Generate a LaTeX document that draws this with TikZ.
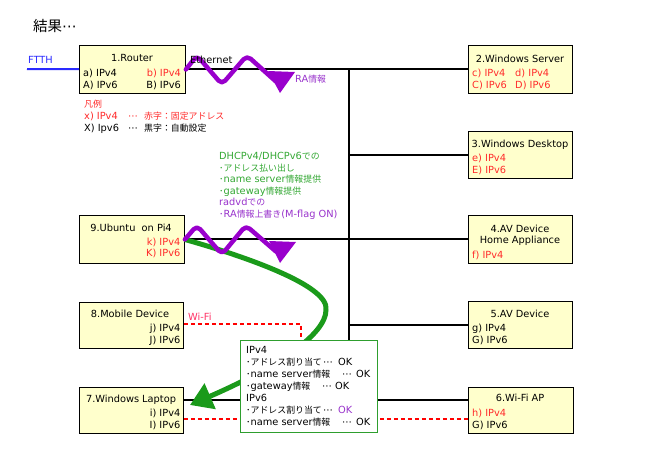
\documentclass[tikz,border=0pt]{standalone}
\usepackage{fontspec}
\setmainfont{DejaVu Sans}
\newfontfamily\jpf{Noto Sans CJK JP}
\usetikzlibrary{arrows.meta}
\newcommand\J[1]{{\jpf\fontsize{8.9}{11}\selectfont #1}}
\newcommand\dts{⋯}
\definecolor{boxy}{HTML}{FFFFCC}
\definecolor{rd}{HTML}{FF2A2A}
\definecolor{pp}{HTML}{9900CC}
\definecolor{ppt}{HTML}{9933CC}
\definecolor{gt}{HTML}{33A833}
\definecolor{gc}{HTML}{1A9A1A}
\definecolor{gbd}{HTML}{2E9E2E}
\definecolor{bl}{HTML}{2A2AFF}
\definecolor{wfc}{HTML}{FF3366}
\begin{document}
\begin{tikzpicture}[x=1pt,y=-1pt,
  box/.style={draw=black,line width=0.9pt,fill=boxy,inner sep=0,anchor=north west},
  tx/.style={inner sep=0,anchor=base west,font=\fontsize{9.8}{11}\selectfont},
  txr/.style={tx,anchor=base east},
  txc/.style={tx,anchor=base},
  net/.style={line width=2pt,black},
  ftthline/.style={line width=2pt,bl},
  wifi/.style={line width=1.6pt,red,dash pattern=on 4pt off 3pt},
  wave/.style={line width=4.5pt,pp,rounded corners=5pt,line cap=round,line join=round},
  gcurve/.style={line width=5pt,gc,-{Triangle[length=22pt,width=27pt]}}
]
\fill[white] (0,0) rectangle (650,450);
\useasboundingbox (0,0) rectangle (650,450);

% boxes
\node[box,minimum width=106pt,minimum height=48pt] (r) at (79,45) {};
\node[box,minimum width=104pt,minimum height=48pt] (ws) at (468,45) {};
\node[box,minimum width=104pt,minimum height=47pt] (wd) at (468,131) {};
\node[box,minimum width=104pt,minimum height=48pt] (av4) at (468,215) {};
\node[box,minimum width=104pt,minimum height=47pt] (av5) at (468,301) {};
\node[box,minimum width=105pt,minimum height=46pt] (ap) at (468,387) {};
\node[box,minimum width=105pt,minimum height=48pt] (ub) at (79,215) {};
\node[box,minimum width=104pt,minimum height=46pt] (mb) at (79,302) {};
\node[box,minimum width=104pt,minimum height=46pt] (lt) at (79,387) {};

% coordinates
\coordinate (ftth) at (27,69);
\coordinate (t1) at (349,69);
\coordinate (t6) at (349,400);
\coordinate (wf1) at (301,324);
\coordinate (wf2) at (301,419);

% network lines
\draw[ftthline] (ftth) -- (r);
\draw[net] (r) -- (ws);
\draw[net] (t1) -- (t6);
\draw[net] (t1 |- wd) -- (wd);
\draw[net] (ub) -- (av4);
\draw[net] (t1 |- av5) -- (av5);
\draw[net] (lt.east |- t6) -- (ap.west |- t6);

% wifi dashed
\draw[wifi] (mb.east |- wf1) -- (wf1) -- (wf2);
\draw[wifi] (lt.east |- wf2) -- (ap.west |- wf2);

% green curve
\draw[gcurve] (ub.east) .. controls (240,255) and (330,285) .. (326,310)
   .. controls (326,335) and (275,368) .. (190,405);

% purple waves
\draw[wave] (r.east) -- ++(11,-14) -- ++(25,29) -- ++(25,-29) -- ++(29,26);
\fill[pp] (268,71) -- (295,72) -- (280,93) -- cycle;
\draw[wave] (ub.east) -- ++(12,-14) -- ++(25,29) -- ++(24,-29) -- ++(30,26);
\fill[pp] (269,241) -- (296,242) -- (280,263) -- cycle;

% labels on lines
\node[tx,text=bl] (lftth) at (28,63) {FTTH};
\node[tx] (leth) at (190,63) {Ethernet};
\node[tx,text=wfc] (lwifi) at (188,320) {Wi-Fi};
\node[tx,text=ppt] (lra) at (295,82) {RA\J{情報}};

% title and legend
\node[inner sep=0,anchor=base west,font=\fontsize{14.5}{16}\selectfont] (title) at (33,31) {{\jpf 結果}\dts};
\node[tx,text=rd] (lg0) at (84,107) {\J{凡例}};
\node[tx,text=rd] (lg1) at (84,119) {x) IPv4};
\node[tx,text=rd] (lg1d) at (128,119) {\dts};
\node[tx,text=rd] (lg1t) at (144,119) {\J{赤字：固定アドレス}};
\node[tx] (lg2) at (84,131) {X) Ipv6};
\node[tx] (lg2d) at (128,131) {\dts};
\node[tx] (lg2t) at (144,131) {\J{黒字：自動設定}};

% DHCP text
\node[tx,text=gt] (d1) at (219,159) {DHCPv4/DHCPv6\J{での}};
\node[tx,text=gt] (d2) at (219,171) {\J{･アドレス払い出し}};
\node[tx,text=gt] (d3) at (219,182.5) {\J{･}name server\J{情報提供}};
\node[tx,text=gt] (d4) at (219,194) {\J{･}gateway\J{情報提供}};
\node[tx,text=ppt] (d5) at (219,205.5) {radvd\J{での}};
\node[tx,text=ppt] (d6) at (219,217) {\J{･}RA\J{情報上書き}(M-flag ON)};

% box texts: router
\node[txc] (r0) at (132,61) {1.Router};
\node[tx] (r1) at (83,76) {a) IPv4};
\node[txr,text=rd] (r2) at (181,76) {b) IPv4};
\node[tx] (r3) at (83,88) {A) IPv6};
\node[txr] (r4) at (181,88) {B) IPv6};
% windows server
\node[txc] (ws0) at (520,62) {2.Windows Server};
\node[tx,text=rd] (ws1) at (472,76) {c) IPv4};
\node[tx,text=rd] (ws2) at (515,76) {d) IPv4};
\node[tx,text=rd] (ws3) at (472,88) {C) IPv6};
\node[tx,text=rd] (ws4) at (515,88) {D) IPv6};
% windows desktop
\node[txc] (wd0) at (520,147) {3.Windows Desktop};
\node[tx,text=rd] (wd1) at (472,161.5) {e) IPv4};
\node[tx,text=rd] (wd2) at (472,173) {E) IPv6};
% av4
\node[txc] (a40) at (520,232) {4.AV Device};
\node[txc] (a41) at (520,243.5) {Home Appliance};
\node[tx,text=rd] (a42) at (472,258) {f) IPv4};
% av5
\node[txc] (a50) at (520,317) {5.AV Device};
\node[tx] (a51) at (472,331) {g) IPv4};
\node[tx] (a52) at (472,343) {G) IPv6};
% wifi ap
\node[txc] (ap0) at (520,401) {6.Wi-Fi AP};
\node[tx,text=rd] (ap1) at (472,416) {h) IPv4};
\node[tx] (ap2) at (472,428) {G) IPv6};
% ubuntu
\node[txc] (ub0) at (131,231) {9.Ubuntu\ \ on Pi4};
\node[txr,text=rd] (ub1) at (180.5,245) {k) IPv4};
\node[txr,text=rd] (ub2) at (180.5,256.5) {K) IPv6};
% mobile
\node[txc] (mb0) at (130,317) {8.Mobile Device};
\node[txr] (mb1) at (180.5,331) {j) IPv4};
\node[txr] (mb2) at (180.5,343) {J) IPv6};
% laptop
\node[txc] (lt0) at (131,402) {7.Windows Laptop};
\node[txr] (lt1) at (180.5,416) {i) IPv4};
\node[txr] (lt2) at (180.5,428) {I) IPv6};

% green result box
\node[draw=gbd,line width=1pt,fill=white,inner sep=0,anchor=north west,
      minimum width=137pt,minimum height=92pt] (gb) at (240,340) {};
\node[tx] (g1) at (246,353) {IPv4};
\node[tx] (g2) at (246,365) {\J{･アドレス割り当て}};
\node[tx] (g2d) at (323,365) {\dts};
\node[tx] (g2k) at (338,365) {OK};
\node[tx] (g3) at (246,377) {\J{･}name server\J{情報}};
\node[tx] (g3d) at (342,377) {\dts};
\node[tx] (g3k) at (356,377) {OK};
\node[tx] (g4) at (246,389) {\J{･}gateway\J{情報}};
\node[tx] (g4d) at (322,389) {\dts};
\node[tx] (g4k) at (335,389) {OK};
\node[tx] (g5) at (246,401) {IPv6};
\node[tx] (g6) at (246,413) {\J{･アドレス割り当て}};
\node[tx] (g6d) at (323,413) {\dts};
\node[tx,text=ppt] (g6k) at (338,413) {OK};
\node[tx] (g7) at (246,425) {\J{･}name server\J{情報}};
\node[tx] (g7d) at (342,425) {\dts};
\node[tx] (g7k) at (356,425) {OK};
\end{tikzpicture}
\end{document}
